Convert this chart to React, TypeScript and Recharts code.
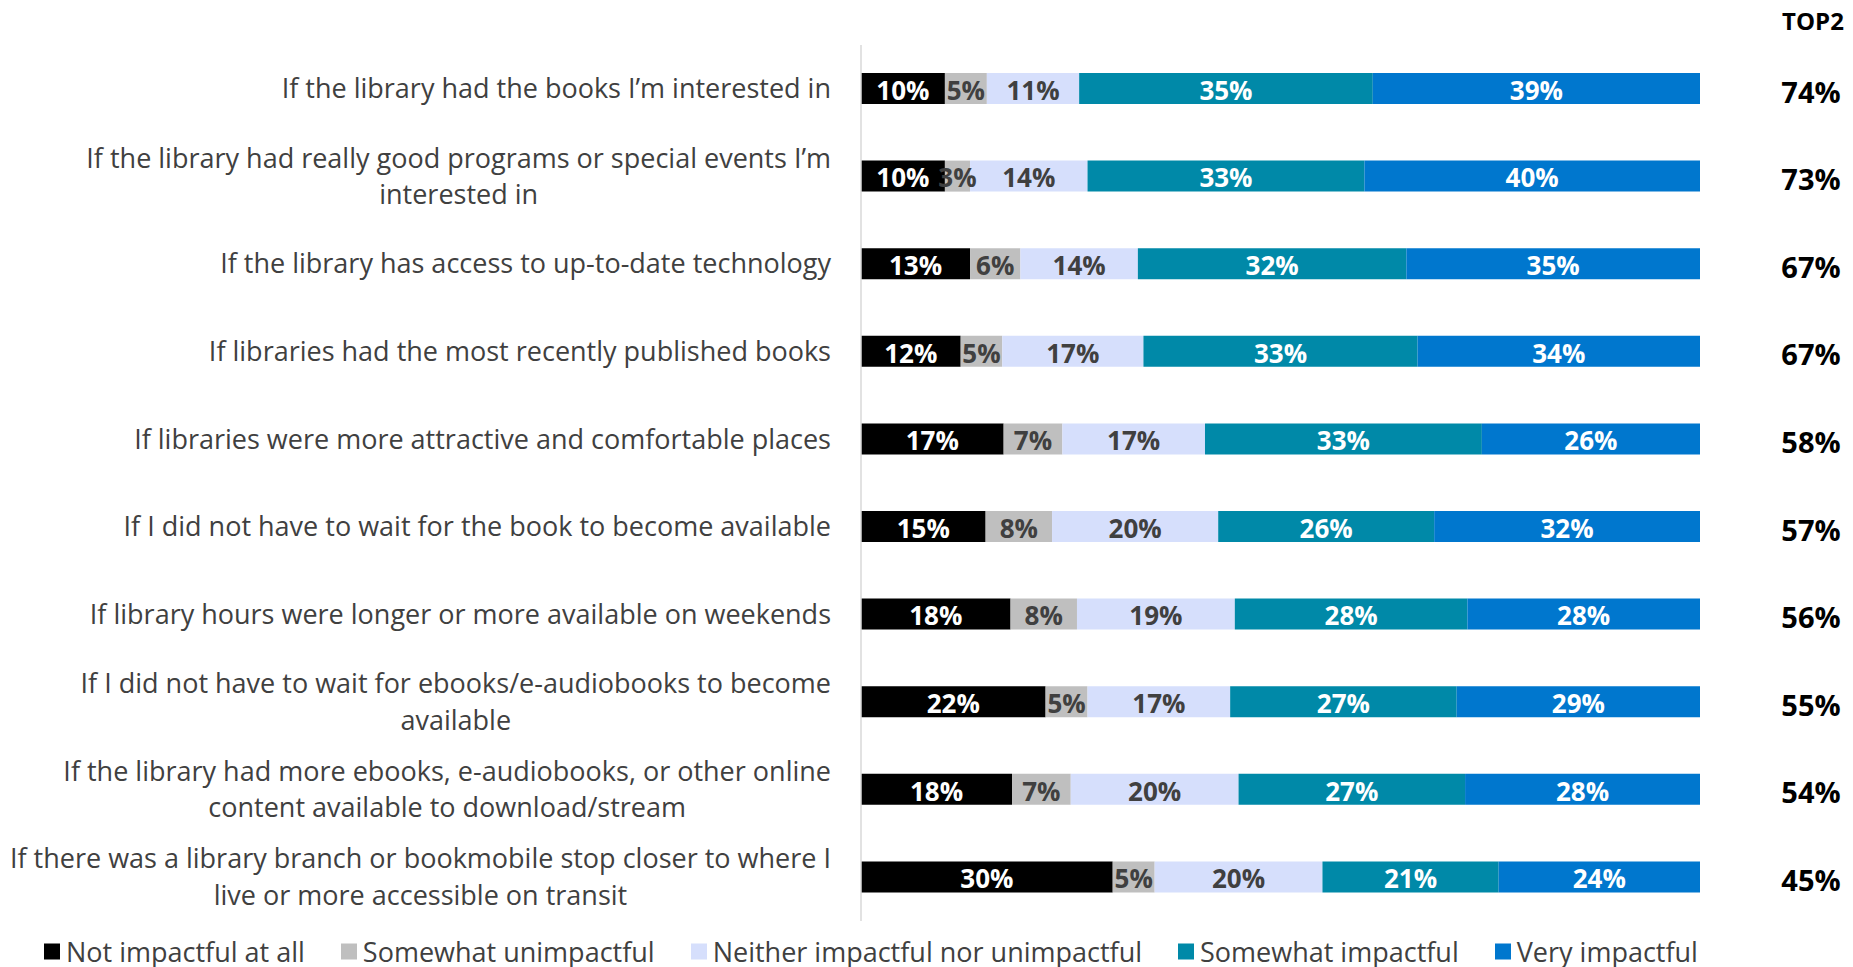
import { BarChart, Bar, XAxis, YAxis, LabelList } from 'recharts'

const statements = [
	'If the library had the books I’m interested in',
	'If the library had really good programs or special events I’m\ninterested in',
	'If the library has access to up-to-date technology',
	'If libraries had the most recently published books',
	'If libraries were more attractive and comfortable places',
	'If I did not have to wait for the book to become available',
	'If library hours were longer or more available on weekends',
	'If I did not have to wait for ebooks/e-audiobooks to become\navailable',
	'If the library had more ebooks, e-audiobooks, or other online\ncontent available to download/stream',
	'If there was a library branch or bookmobile stop closer to where I\nlive or more accessible on transit',
]

const notImpactful = [10, 10, 13, 12, 17, 15, 18, 22, 18, 30]
const somewhatUnimpactful = [5, 3, 6, 5, 7, 8, 8, 5, 7, 5]
const neither = [11, 14, 14, 17, 17, 20, 19, 17, 20, 20]
const somewhatImpactful = [35, 33, 32, 33, 33, 26, 28, 27, 27, 21]
const veryImpactful = [39, 40, 35, 34, 26, 32, 28, 29, 28, 24]
const top2 = [74, 73, 67, 67, 58, 57, 56, 55, 54, 45]

const series = [
	{ key: 'notImpactful', name: 'Not impactful at all', color: '#000000', text: '#ffffff' },
	{ key: 'somewhatUnimpactful', name: 'Somewhat unimpactful', color: '#bfbfbf', text: '#404040' },
	{ key: 'neither', name: 'Neither impactful nor unimpactful', color: '#d6dffc', text: '#404040' },
	{ key: 'somewhatImpactful', name: 'Somewhat impactful', color: '#0089a8', text: '#ffffff' },
	{ key: 'veryImpactful', name: 'Very impactful', color: '#0077ce', text: '#ffffff' },
]

const data = statements.map((s, i) => ({
	statement: s,
	notImpactful: notImpactful[i],
	somewhatUnimpactful: somewhatUnimpactful[i],
	neither: neither[i],
	somewhatImpactful: somewhatImpactful[i],
	veryImpactful: veryImpactful[i],
	top2: top2[i],
}))

const FONT = "'Open Sans', sans-serif"
const TEXT = '#404040'
const LABEL_SIZE = 27

let ctx: CanvasRenderingContext2D | null = null
function measure(s: string) {
	if (!ctx) ctx = document.createElement('canvas').getContext('2d')
	if (!ctx) return s.length * 13
	ctx.font = `${LABEL_SIZE}px "Open Sans"`
	return ctx.measureText(s).width
}

// right-aligned block, wrapped lines centred on each other
function StatementTick(props: any) {
	const { x, y, payload } = props
	const lines = String(payload.value).split('\n')
	const lineH = 36.6
	const right = x - 28
	const maxW = Math.max(...lines.map(measure))
	const cx = right - maxW / 2
	const top = y - ((lines.length - 1) * lineH) / 2
	return (
		<g>
			{lines.map((l, i) => (
				<text
					key={i}
					x={cx}
					y={top + i * lineH}
					dy="0.35em"
					textAnchor="middle"
					fill={TEXT}
					fontSize={LABEL_SIZE}
					fontFamily={FONT}
				>
					{l}
				</text>
			))}
		</g>
	)
}

function Top2Label(props: any) {
	const { x, y, width, height, value } = props
	return (
		<text
			x={x + width + 111}
			y={y + height / 2 + 4}
			dy="0.35em"
			textAnchor="middle"
			fill="#000000"
			fontSize={29}
			fontWeight={700}
			fontFamily={FONT}
		>
			{value}%
		</text>
	)
}

export default function App() {
	return (
		<div style={{ position: 'absolute', left: 0, top: 0, width: 1853, height: 967, background: '#fff', fontFamily: FONT }}>
			<BarChart
				width={1853}
				height={967}
				data={data}
				layout="vertical"
				stackOffset="expand"
				margin={{ top: 45, right: 153, left: 0, bottom: 46 }}
			>
				<XAxis type="number" domain={[0, 1]} hide />
				<YAxis
					type="category"
					dataKey="statement"
					width={861}
					axisLine={{ stroke: '#d9d9d9', strokeWidth: 1.5 }}
					tickLine={false}
					tickSize={0}
					tick={<StatementTick />}
					interval={0}
				/>
				{series.map((s, idx) => (
					<Bar
						key={s.key}
						dataKey={s.key}
						name={s.name}
						stackId="a"
						fill={s.color}
						barSize={31}
						isAnimationActive={false}
					>
						<LabelList
							dataKey={s.key}
							position="center"
							fill={s.text}
							fontSize={26}
							fontWeight={700}
							fontFamily={FONT}
							dy={2}
							formatter={(v: any) => `${v}%`}
						/>
						{idx === series.length - 1 && <LabelList dataKey="top2" content={<Top2Label />} />}
					</Bar>
				))}
			</BarChart>
			<div
				style={{
					position: 'absolute',
					left: 1813,
					top: 20,
					transform: 'translate(-50%, -50%)',
					fontSize: 24,
					fontWeight: 700,
					color: '#000',
				}}
			>
				TOP2
			</div>
			<div
				style={{
					position: 'absolute',
					left: 44,
					top: 951,
					transform: 'translateY(-50%)',
					display: 'flex',
					alignItems: 'center',
					gap: 36,
					fontSize: LABEL_SIZE,
					color: TEXT,
					whiteSpace: 'nowrap',
				}}
			>
				{series.map((s) => (
					<div key={s.key} style={{ display: 'flex', alignItems: 'center', gap: 6 }}>
						<span style={{ width: 16, height: 16, background: s.color, display: 'inline-block' }} />
						<span>{s.name}</span>
					</div>
				))}
			</div>
		</div>
	)
}
